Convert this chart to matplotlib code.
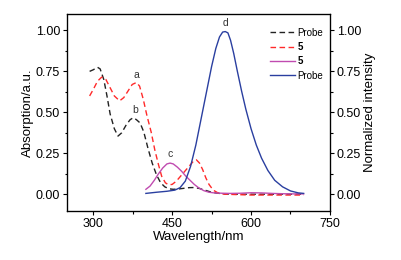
import matplotlib
matplotlib.use("Agg")
import matplotlib.pyplot as plt
from matplotlib.ticker import MultipleLocator

plt.rcParams['font.family'] = ['Liberation Sans', 'DejaVu Sans']

# Probe absorption (black dashed)
probe_abs_x = [293, 300, 308, 313, 320, 326, 332, 340, 347, 354, 362, 370, 376, 382, 389, 396, 404, 412, 420, 428, 436, 444, 452, 462, 472, 482, 492, 502, 512, 522, 532, 545, 560, 600, 650, 700]
probe_abs_y = [0.75, 0.76, 0.775, 0.765, 0.70, 0.60, 0.49, 0.40, 0.355, 0.375, 0.42, 0.455, 0.467, 0.455, 0.435, 0.38, 0.28, 0.19, 0.12, 0.07, 0.045, 0.033, 0.03, 0.032, 0.036, 0.04, 0.041, 0.035, 0.025, 0.015, 0.008, 0.003, 0.0, 0.0, 0.0, 0.0]

# Compound 5 absorption (red dashed)
c5_abs_x = [293, 300, 308, 316, 324, 332, 340, 350, 358, 366, 374, 382, 388, 395, 402, 410, 417, 424, 430, 437, 443, 450, 458, 466, 474, 482, 490, 496, 502, 508, 514, 520, 528, 536, 550, 600, 650, 700]
c5_abs_y = [0.60, 0.64, 0.69, 0.715, 0.70, 0.65, 0.60, 0.57, 0.59, 0.63, 0.67, 0.682, 0.66, 0.58, 0.48, 0.38, 0.27, 0.18, 0.11, 0.07, 0.057, 0.06, 0.08, 0.11, 0.14, 0.17, 0.20, 0.21, 0.19, 0.15, 0.10, 0.06, 0.025, 0.01, 0.0, -0.005, -0.005, -0.005]

# Compound 5 emission (magenta solid)
c5_em_x = [400, 408, 416, 424, 432, 440, 446, 452, 460, 468, 476, 484, 492, 500, 510, 520, 530, 545, 560, 580, 600, 620, 640, 660, 680, 700]
c5_em_y = [0.03, 0.05, 0.085, 0.125, 0.16, 0.185, 0.19, 0.185, 0.165, 0.14, 0.11, 0.085, 0.06, 0.04, 0.022, 0.012, 0.008, 0.006, 0.005, 0.006, 0.009, 0.008, 0.005, 0.003, 0.002, 0.002]

# Probe emission (blue solid)
probe_em_x = [400, 420, 440, 455, 465, 475, 485, 495, 505, 515, 525, 533, 540, 546, 551, 556, 561, 567, 574, 582, 590, 600, 610, 620, 632, 645, 660, 675, 690, 700]
probe_em_y = [0.005, 0.012, 0.018, 0.025, 0.04, 0.08, 0.17, 0.30, 0.46, 0.62, 0.78, 0.89, 0.96, 0.99, 0.993, 0.985, 0.94, 0.86, 0.75, 0.63, 0.52, 0.40, 0.30, 0.22, 0.145, 0.085, 0.045, 0.02, 0.008, 0.005]

legend_labels = ["Probe", "5", "5", "Probe"]
peak_labels = ["a", "b", "c", "d"]
peak_label_x = [381, 379, 446, 551]
peak_label_y = [0.70, 0.485, 0.215, 1.015]

fig = plt.figure(figsize=(4.02, 2.60), dpi=100)
ax = fig.add_axes([0.1667, 0.19, 0.654, 0.756])

l1, = ax.plot(probe_abs_x, probe_abs_y, color='#222222', ls=(0, (4, 2.5)), lw=1.0)
l2, = ax.plot(c5_abs_x, c5_abs_y, color='#ff2a2a', ls=(0, (4, 2.5)), lw=1.0)
l3, = ax.plot(c5_em_x, c5_em_y, color='#c04bb0', lw=1.0)
l4, = ax.plot(probe_em_x, probe_em_y, color='#2a3fa0', lw=1.0)

ax.set_xlim(250, 750)
ax.set_ylim(-0.1, 1.1)
ax.xaxis.set_major_locator(MultipleLocator(150))
ax.xaxis.set_minor_locator(MultipleLocator(75))
ax.yaxis.set_minor_locator(MultipleLocator(0.125))
ax.set_yticks([0, 0.25, 0.5, 0.75, 1.0])
ax.set_yticklabels(["0.00", "0.25", "0.50", "0.75", "1.00"])
ax.tick_params(axis='both', which='major', direction='out', length=3, width=0.8, labelsize=9, pad=2)
ax.tick_params(axis='both', which='minor', direction='out', length=1.8, width=0.8)
ax.set_xlabel("Wavelength/nm", fontsize=9.5, labelpad=1)
ax.set_ylabel("Absorption/a.u.", fontsize=9.5, labelpad=1)
for s in ax.spines.values():
    s.set_linewidth(0.9)

ax2 = ax.twinx()
ax2.set_ylim(-0.1, 1.1)
ax2.set_yticks([0, 0.25, 0.5, 0.75, 1.0])
ax2.set_yticklabels(["0.00", "0.25", "0.50", "0.75", "1.00"])
ax2.yaxis.set_minor_locator(MultipleLocator(0.125))
ax2.tick_params(axis='y', which='major', direction='out', length=3, width=0.8, labelsize=9, pad=2)
ax2.tick_params(axis='y', which='minor', direction='out', length=1.8, width=0.8)
ax2.set_ylabel("Normalized intensity", fontsize=9.5, labelpad=2)

for t, x, y in zip(peak_labels, peak_label_x, peak_label_y):
    ax.text(x, y, t, fontsize=7.5, ha='center', va='bottom', color='#333333')

leg = ax.legend([l1, l2, l3, l4], legend_labels, loc='upper right', fontsize=7,
                frameon=False, handlelength=2.6, handletextpad=0.2, labelspacing=0.45,
                borderaxespad=0.3, bbox_to_anchor=(1.0, 0.965))
for i, txt in enumerate(leg.get_texts()):
    if legend_labels[i] == "5":
        txt.set_fontweight('bold')

fig.savefig("out.png", dpi=100)
